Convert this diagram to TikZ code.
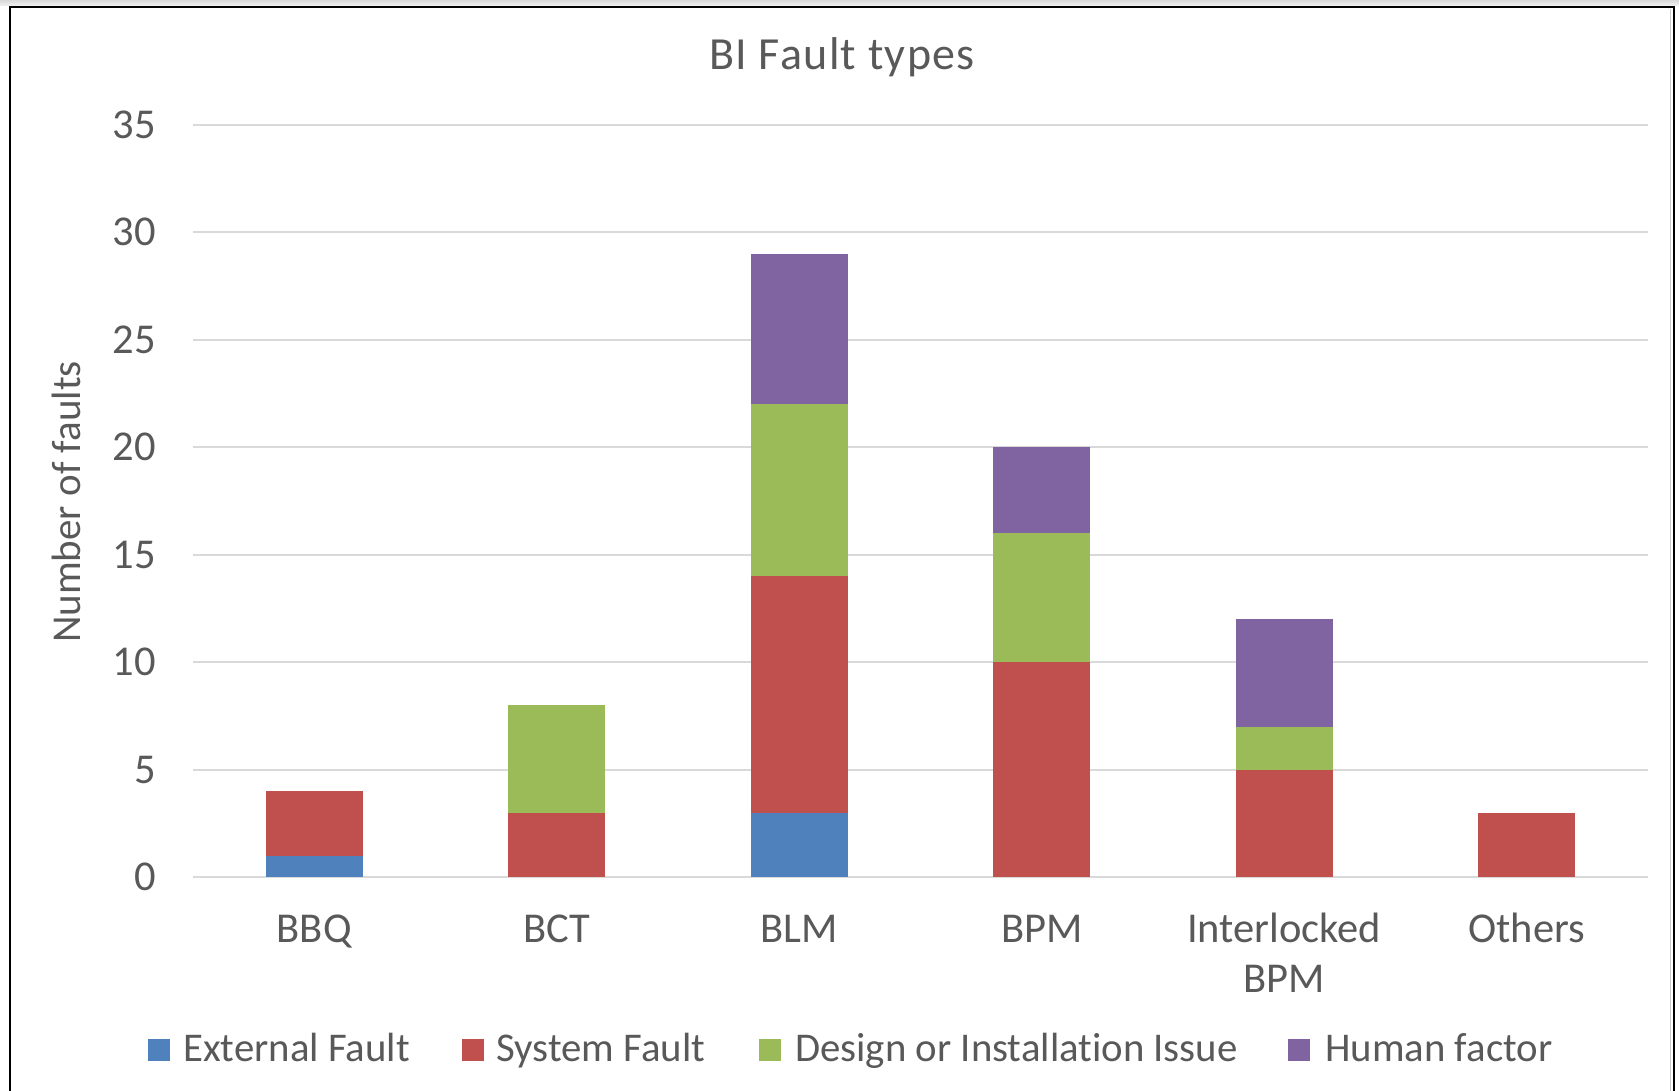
\documentclass[tikz,border=0pt]{standalone}
\usepackage{fontspec}
\setmainfont[Ligatures=CommonOff]{Carlito}
\newfontfamily\titlefont[LetterSpace=3,Ligatures=CommonOff]{Carlito}
\definecolor{txt}{HTML}{595959}
\definecolor{grid}{HTML}{D9D9D9}
\definecolor{cext}{HTML}{4F81BD}
\definecolor{csys}{HTML}{C0504D}
\definecolor{cdes}{HTML}{9BBB59}
\definecolor{chum}{HTML}{8064A2}
\newcommand\barseg[4]{\fill[#4] ({#1-48.5},{877-21.486*#2}) rectangle ({#1+48.5},{877-21.486*#3});}
\begin{document}
\begin{tikzpicture}[x=1pt,y=-1pt,
  lbl/.style={inner sep=0pt,text=txt,font=\fontsize{42.5}{50}\selectfont},
  leg/.style={inner sep=0pt,text=txt,font=\fontsize{40.8}{48}\selectfont,anchor=base west},
  gridline/.style={grid,line width=2pt}]
\useasboundingbox (0,0) rectangle (1679,1091);
\fill[white] (0,0) rectangle (1679,1091);
\shade[top color=gray!30,bottom color=gray!10] (0,0) rectangle (1679,6);
% frame
\draw[black,line width=2.5pt] (10,1095) -- (10,7) -- (1674,7) -- (1674,1095);
\draw[gray!40,line width=1pt] (1670.5,9) -- (1670.5,1095);
% title
\node[inner sep=0pt,text=txt,font=\titlefont\fontsize{46}{52}\selectfont,anchor=base] (title) at (842,70) {BI Fault types};
% gridlines and tick labels
\foreach \v in {0,5,...,35}{
  \draw[gridline] (193,{877-21.486*\v}) -- (1648,{877-21.486*\v});
  \node[lbl,anchor=base east] (tick\v) at (156,{877-21.486*\v+13.5}) {\v};
}
% axis title
\node[inner sep=0pt,text=txt,font=\fontsize{41}{48}\selectfont,rotate=90,anchor=base] (ytitle) at (80,502) {Number of faults};
% bars
\barseg{314.25}{0}{1}{cext}
\barseg{314.25}{1}{4}{csys}
\barseg{556.75}{0}{3}{csys}
\barseg{556.75}{3}{8}{cdes}
\barseg{799.25}{0}{3}{cext}
\barseg{799.25}{3}{14}{csys}
\barseg{799.25}{14}{22}{cdes}
\barseg{799.25}{22}{29}{chum}
\barseg{1041.75}{0}{10}{csys}
\barseg{1041.75}{10}{16}{cdes}
\barseg{1041.75}{16}{20}{chum}
\barseg{1284.25}{0}{5}{csys}
\barseg{1284.25}{5}{7}{cdes}
\barseg{1284.25}{7}{12}{chum}
\barseg{1526.75}{0}{3}{csys}
% category labels
\node[lbl,anchor=base] (cBBQ) at (314.25,942) {BBQ};
\node[lbl,anchor=base] (cBCT) at (556.75,942) {BCT};
\node[lbl,anchor=base] (cBLM) at (799.25,942) {BLM};
\node[lbl,anchor=base] (cBPM) at (1041.75,942) {BPM};
\node[lbl,anchor=base] (cIB1) at (1284.25,942) {Interlocked};
\node[lbl,anchor=base] (cIB2) at (1284.25,992) {BPM};
\node[lbl,anchor=base] (cOth) at (1526.75,942) {Others};
% legend
\fill[cext] (148,1039) rectangle (170,1061);
\node[leg] (lext) at (183,1061) {External Fault};
\fill[csys] (462,1039) rectangle (484,1061);
\node[leg] (lsys) at (496,1061) {System Fault};
\fill[cdes] (759,1039) rectangle (781,1061);
\node[leg] (ldes) at (795,1061) {Design or Installation Issue};
\fill[chum] (1288,1039) rectangle (1310,1061);
\node[leg] (lhum) at (1325,1061) {Human factor};
\end{tikzpicture}
\end{document}
